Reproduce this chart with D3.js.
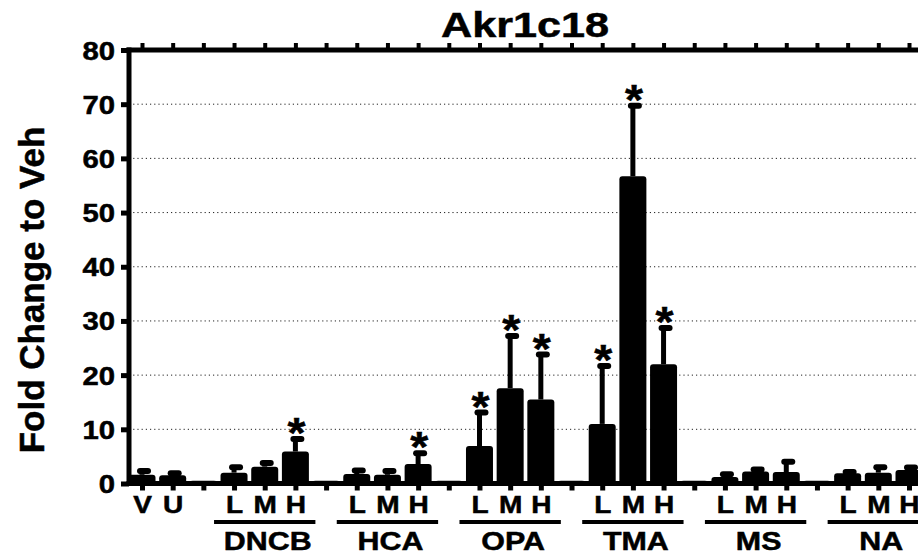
<!DOCTYPE html>
<html>
<head>
<meta charset="utf-8">
<script src="https://cdn.jsdelivr.net/npm/d3@7"></script>
<style>
  body { margin: 0; background: #fff; }
  svg text { font-family: "Liberation Sans", Arial, sans-serif; font-weight: bold; fill: #000; stroke: #000; stroke-width: 0.5px; }
</style>
</head>
<body>
<div id="chart"></div>
<script>
// one entry per slot on the x axis, "" = spacer between groups
var labels = ["V","U","", "L","M","H","", "L","M","H","", "L","M","H","", "L","M","H","", "L","M","H","", "L","M","H"];
var means  = [1.6,1.5,0.5, 2.0,3.1,5.9,0.5, 1.75,1.6,3.6,0.5, 6.9,17.6,15.5,0.5, 11.0,56.7,22.0,0.5, 1.2,2.2,2.1,0.5, 1.9,2.0,2.5];
var errs   = [0.7,0.4,0, 1.0,0.7,2.3,0, 0.65,0.7,2.0,0, 6.2,9.6,8.3,0, 10.7,13.0,6.7,0, 0.5,0.4,1.9,0, 0.2,1.0,0.45];
var stars  = [5, 9, 11, 12, 13, 15, 16, 17];
var groupNames = ["DNCB","HCA","OPA","TMA","MS","NA"];
var groupFirst = [3, 7, 11, 15, 19, 23];
var yTicks = [0,10,20,30,40,50,60,70,80];

var width = 918, height = 555;
var axisX = 129;
var barW = 27;
var stretch = 1.17; // the picture's lettering is a bit wider than plain Arial

var svg = d3.select("#chart").append("svg").attr("width", width).attr("height", height);

var x = d3.scaleLinear().domain([0, labels.length - 1]).range([142, 909]);
var y = d3.scaleLinear().domain([0, 80]).range([483.5, 50]);

function wideText(g, tx, ty, size, sx, str){
  return g.append("text")
    .attr("transform", "translate(" + tx + "," + ty + ") scale(" + sx + ",1)")
    .attr("text-anchor", "middle")
    .style("font-size", size + "px")
    .text(str);
}

// dotted grid
svg.append("g").selectAll("line")
  .data(yTicks.filter(function(d){ return d > 0 && d < 80; }))
  .enter().append("line")
  .attr("x1", axisX).attr("x2", width)
  .attr("y1", function(d){ return y(d); }).attr("y2", function(d){ return y(d); })
  .attr("stroke", "#222").attr("stroke-width", 1).attr("stroke-dasharray", "1.2,3");

// bars
svg.append("g").selectAll("rect")
  .data(means)
  .enter().append("rect")
  .attr("x", function(d, i){ return x(i) - barW / 2; })
  .attr("width", barW)
  .attr("y", function(d){ return y(d); })
  .attr("height", function(d){ return y(0) - y(d); })
  .attr("rx", 3)
  .attr("fill", "#000");

// error bars (upper only)
var eb = svg.append("g");
means.forEach(function(m, i){
  if (!errs[i]) return;
  var top = y(m + errs[i]);
  eb.append("line")
    .attr("x1", x(i)).attr("x2", x(i))
    .attr("y1", y(m)).attr("y2", top)
    .attr("stroke", "#000").attr("stroke-width", 5);
  eb.append("rect")
    .attr("x", x(i) - 5).attr("width", 14)
    .attr("y", top - 3).attr("height", 6)
    .attr("rx", 3).attr("fill", "#000");
});

// significance stars
var sg = svg.append("g");
stars.forEach(function(i){
  wideText(sg, x(i) + 1, y(means[i] + errs[i]) + 8, 42, 1.1, "*");
});

// left axis
var yAxis = d3.axisLeft(y).tickValues(yTicks).tickSize(8).tickPadding(4).tickSizeOuter(0);
var gy = svg.append("g").attr("transform", "translate(" + axisX + ",0)").call(yAxis);
gy.select(".domain").remove();
gy.selectAll(".tick line").attr("stroke-width", 5);
gy.selectAll(".tick text").style("font-size", "25px").attr("dy", "0.36em")
  .attr("transform", "scale(" + stretch + ",1)");
svg.append("line").attr("x1", axisX).attr("x2", axisX).attr("y1", y(0) + 2.5).attr("y2", y(80) - 2.5)
  .attr("stroke", "#000").attr("stroke-width", 5);

// bottom axis
var xAxis = d3.axisBottom(x).tickValues(d3.range(labels.length)).tickSize(7).tickPadding(5)
  .tickFormat(function(i){ return labels[i]; });
var gx = svg.append("g").attr("transform", "translate(0," + y(0) + ")").call(xAxis);
gx.select(".domain").remove();
gx.selectAll(".tick line").attr("stroke-width", 5);
gx.selectAll(".tick text").style("font-size", "24px")
  .attr("transform", "scale(" + stretch + ",1)");
svg.append("line").attr("x1", axisX - 2.5).attr("x2", width).attr("y1", y(0)).attr("y2", y(0))
  .attr("stroke", "#000").attr("stroke-width", 5);

// top axis
var topAxis = d3.axisTop(x).tickValues(d3.range(labels.length)).tickSize(7).tickFormat("");
var gt = svg.append("g").attr("transform", "translate(0," + y(80) + ")").call(topAxis);
gt.select(".domain").remove();
gt.selectAll(".tick line").attr("stroke-width", 4);
svg.append("line").attr("x1", axisX - 2.5).attr("x2", width).attr("y1", y(80)).attr("y2", y(80))
  .attr("stroke", "#000").attr("stroke-width", 5);

// group underlines and names
var grp = svg.append("g");
groupNames.forEach(function(name, k){
  var i0 = groupFirst[k];
  grp.append("line")
    .attr("x1", x(i0) - 20).attr("x2", x(i0 + 2) + 20)
    .attr("y1", 522).attr("y2", 522)
    .attr("stroke", "#000").attr("stroke-width", 4);
  wideText(grp, x(i0 + 1) + 3, 550, 26, stretch, name);
});

// title
wideText(svg, 525, 37, 36, 1.2, "Akr1c18");

// y label
svg.append("text")
  .attr("transform", "translate(44,290) rotate(-90)")
  .attr("text-anchor", "middle")
  .style("font-size", "35px")
  .text("Fold Change to Veh");
</script>
</body>
</html>
